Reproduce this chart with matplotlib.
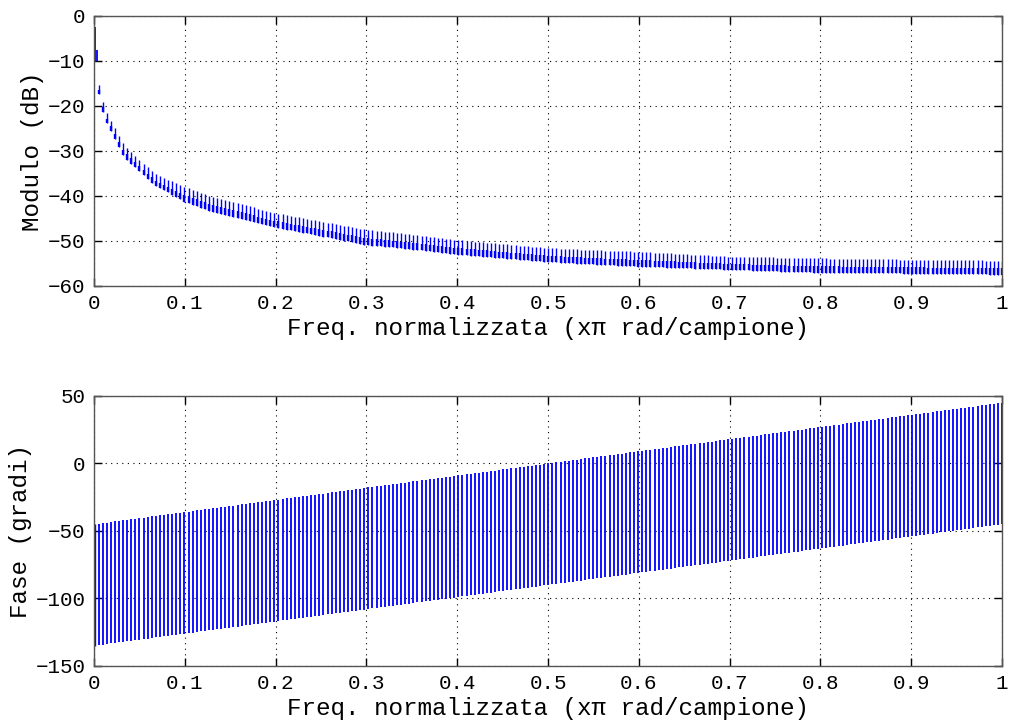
import matplotlib
matplotlib.use("Agg")
import matplotlib.pyplot as plt
import numpy as np

# --- values ---
# magnitude envelopes (dB) at a few normalised frequencies
mag_freq = [0.003, 0.011, 0.033, 0.066, 0.10, 0.13, 0.20, 0.30, 0.337,
            0.40, 0.50, 0.557, 0.60, 0.70, 0.78, 0.83, 1.00]
mag_top = [-13.5, -20.5, -28.7, -35.0, -38.0, -40.2, -43.8, -47.5, -48.3,
           -49.8, -51.6, -52.1, -52.4, -53.5, -53.8, -54.0, -54.4]
mag_bot = [-15.5, -22.6, -31.3, -37.5, -41.3, -43.5, -47.0, -50.9, -51.6,
           -53.0, -54.7, -55.3, -55.7, -56.4, -57.0, -57.1, -57.5]

# the very first samples near f = 0
start_freq = [0.0015, 0.003]
start_top = [-2.4, -7.5]
start_bot = [-10.2, -10.0]

# phase envelopes (degrees)
phase_freq = [0.0, 1.0]
phase_top = [-45.0, 45.0]
phase_bot = [-135.0, -45.0]

# number of ripples counted across the band
n_ripples = 222
first_ripple = 0.005

xticks = [0, 0.1, 0.2, 0.3, 0.4, 0.5, 0.6, 0.7, 0.8, 0.9, 1]
xticklabels = ["0", "0.1", "0.2", "0.3", "0.4", "0.5", "0.6", "0.7", "0.8", "0.9", "1"]
mag_yticks = [0, -10, -20, -30, -40, -50, -60]
phase_yticks = [50, 0, -50, -100, -150]

plt.rcParams['font.family'] = ['Liberation Mono', 'DejaVu Sans Mono']

blue = (0, 0, 1)
xlabel = "Freq. normalizzata (x\u03c0 rad/campione)"

fig = plt.figure(figsize=(10.09, 7.22), dpi=100)
ax1 = fig.add_axes([0.0932, 0.604, 0.8999, 0.374])
ax2 = fig.add_axes([0.0932, 0.0776, 0.8999, 0.374])

f = np.linspace(first_ripple, 1.0, n_ripples)

# magnitude: thin spikes up to the top envelope, heavier band near the bottom
top = np.interp(f, mag_freq, mag_top)
bot = np.interp(f, mag_freq, mag_bot)
ax1.vlines(f, bot, top, color=blue, lw=1.0)
ax1.vlines(f, bot, bot + 0.45 * (top - bot), color=blue, lw=1.7)
ax1.vlines(start_freq, start_bot, start_top, color=blue, lw=1.3)

# phase
ptop = np.interp(f, phase_freq, phase_top)
pbot = np.interp(f, phase_freq, phase_bot)
ax2.vlines(f, pbot, ptop, color=blue, lw=1.3)
ax2.vlines([0.0015], [-135], [-45], color=blue, lw=1.0)

for ax, yt, ylim, ylab in [(ax1, mag_yticks, (-60, 0), "Modulo (dB)"),
                           (ax2, phase_yticks, (-150, 50), "Fase (gradi)")]:
    ax.set_xlim(0, 1)
    ax.set_ylim(*ylim)
    ax.set_xticks(xticks)
    ax.set_xticklabels(xticklabels)
    ax.set_yticks(yt)
    ax.grid(True, color='black', linestyle=(0, (1, 4)), linewidth=0.8)
    ax.tick_params(direction='in', top=True, right=True, length=6,
                   width=1.0, labelsize=15, pad=6)
    for s in ax.spines.values():
        s.set_color('#555555')
        s.set_linewidth(1.0)
    ax.set_xlabel(xlabel, fontsize=17.5, labelpad=3)
    ax.set_ylabel(ylab, fontsize=17.5, labelpad=3)

fig.savefig("out.png", dpi=100)
